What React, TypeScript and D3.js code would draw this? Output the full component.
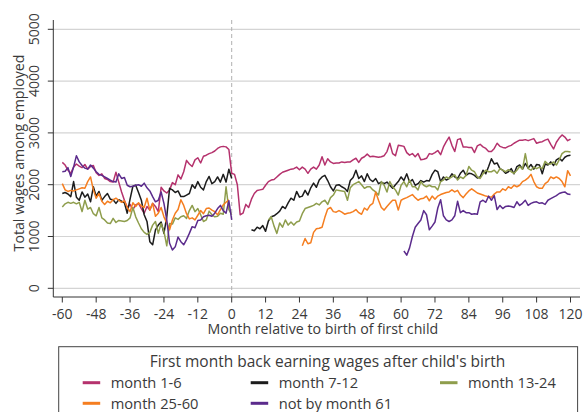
import React, { useEffect } from 'react';
import * as d3 from 'd3';

const WIDTH = 585;
const HEIGHT = 412;
const FONT = '"Open Sans", "DejaVu Sans", sans-serif';

const X_TICKS = [-60, -48, -36, -24, -12, 0, 12, 24, 36, 48, 60, 72, 84, 96, 108, 120];
const Y_TICKS = [0, 1000, 2000, 3000, 4000, 5000];

// pre-birth values, months -60 .. 0 (orange stops at -1)
const m1_6Pre = [2430, 2380, 2280, 2220, 2340, 2400, 2360, 2330, 2390, 2300, 2350, 2370, 2230, 2180, 2210, 2120, 2100, 2060, 2050, 2240, 2050, 1860, 1700, 1560, 1620, 1520, 1610, 1640, 1540, 1450, 1580, 1510, 1640, 1580, 1480, 1950, 1880, 1840, 1900, 2040, 2000, 2190, 2110, 2250, 2470, 2400, 2350, 2480, 2520, 2420, 2550, 2570, 2600, 2620, 2650, 2700, 2730, 2740, 2730, 2680, 2220];
const m7_12Pre = [1830, 1850, 1820, 1770, 2060, 1760, 1700, 1860, 1760, 1820, 1670, 1960, 1780, 1870, 1700, 1770, 1830, 1720, 1710, 1640, 1710, 1680, 1650, 1450, 1720, 1970, 1990, 1850, 1700, 1420, 1290, 900, 840, 1130, 1220, 1280, 1060, 1380, 1930, 1900, 1850, 1880, 1770, 1770, 1800, 1830, 2000, 1930, 2060, 1950, 1900, 2060, 2160, 2020, 2060, 2150, 2050, 2200, 2050, 2300, 2120];
const m13_24Pre = [1570, 1630, 1660, 1640, 1660, 1630, 1660, 1480, 1700, 1530, 1560, 1440, 1400, 1560, 1360, 1320, 1260, 1250, 1350, 1270, 1310, 1300, 1290, 1310, 1360, 1560, 1380, 1260, 1150, 1080, 1040, 1080, 1220, 1290, 1060, 1250, 1100, 820, 1250, 1240, 1360, 1330, 1380, 1400, 1350, 1500, 1600, 1480, 1540, 1420, 1290, 1320, 1490, 1420, 1380, 1390, 1450, 1430, 1960, 1520, 1420];
const m25_60Pre = [2020, 1900, 1870, 1890, 1880, 1900, 1920, 1940, 1930, 2060, 2150, 1900, 1740, 1830, 1680, 1620, 1680, 1650, 1710, 1740, 1700, 1660, 1690, 1560, 1480, 1650, 1580, 1650, 1590, 1560, 1740, 1510, 1640, 1390, 1450, 1560, 1380, 1260, 1130, 1320, 1450, 1520, 1710, 1600, 1440, 1340, 1360, 1320, 1410, 1500, 1440, 1540, 1550, 1510, 1480, 1420, 1520, 1610, 1660, 1710];
const notBy61Pre = [2250, 2260, 2330, 2160, 2340, 2560, 2440, 2370, 2320, 2300, 2380, 2320, 2250, 2200, 2180, 2150, 2120, 2090, 2060, 2050, 2210, 2120, 2140, 1990, 1960, 1970, 1990, 2000, 1970, 2030, 1940, 1880, 1770, 1670, 1700, 1860, 1640, 1320, 870, 740, 800, 990, 900, 840, 940, 1060, 1190, 1170, 1310, 1320, 1380, 1400, 1410, 1390, 1450, 1540, 1600, 1500, 1450, 1690, 1320];

// post-birth values, from the first month back through month 120
const m1_6Post = [2200, 2000, 1420, 1450, 1620, 1560, 1720, 1830, 1890, 1900, 1910, 1990, 2060, 2090, 2100, 2150, 2200, 2240, 2260, 2280, 2300, 2310, 2340, 2290, 2340, 2300, 2220, 2300, 2340, 2300, 2380, 2540, 2380, 2500, 2440, 2410, 2420, 2420, 2440, 2430, 2440, 2440, 2480, 2510, 2430, 2510, 2540, 2590, 2540, 2550, 2540, 2530, 2540, 2560, 2640, 2800, 2600, 2560, 2760, 2750, 2740, 2620, 2570, 2600, 2540, 2600, 2480, 2490, 2510, 2600, 2590, 2620, 2660, 2580, 2730, 2830, 2920, 2760, 2640, 2870, 2890, 2730, 2730, 2720, 2720, 2620, 2750, 2780, 2730, 2700, 2640, 2640, 2700, 2800, 2740, 2720, 2710, 2740, 2760, 2800, 2830, 2860, 2860, 2870, 2850, 2870, 2890, 2800, 2820, 2830, 2860, 2880, 2780, 2690, 2820, 2900, 2960, 2920, 2850, 2880];
const m7_12Post = [1130, 1110, 1180, 1150, 1210, 1100, 1300, 1380, 1400, 1440, 1490, 1580, 1540, 1650, 1740, 1700, 1870, 1760, 1780, 1890, 1800, 1940, 2030, 1950, 2090, 2150, 2180, 2080, 1960, 1880, 1990, 2000, 1960, 1930, 1870, 2080, 2140, 2280, 2120, 2170, 2060, 2210, 2100, 2060, 2120, 2020, 2050, 2020, 2050, 1990, 1930, 2000, 2060, 2150, 2080, 2210, 2050, 2100, 1990, 2020, 2080, 2050, 2080, 2070, 2200, 2280, 2250, 2060, 2150, 2090, 2120, 2210, 2150, 2120, 2220, 2280, 2180, 2220, 2210, 2180, 2130, 2150, 2280, 2210, 2350, 2500, 2400, 2420, 2310, 2280, 2220, 2250, 2310, 2210, 2350, 2380, 2300, 2410, 2320, 2390, 2300, 2390, 2380, 2210, 2400, 2380, 2440, 2370, 2480, 2510, 2460, 2530, 2560, 2570];
const m13_24Post = [1320, 1380, 1200, 1060, 1260, 1180, 1320, 1220, 1280, 1220, 1280, 1300, 1440, 1540, 1560, 1580, 1600, 1640, 1610, 1670, 1700, 1620, 1750, 1800, 1900, 1890, 1880, 1870, 1700, 1940, 2000, 2030, 2060, 2000, 1930, 1960, 1960, 1900, 1860, 1800, 2060, 1990, 1860, 2060, 1960, 1900, 1800, 1990, 2060, 1960, 2090, 1960, 1960, 1900, 2060, 1990, 1960, 1990, 1960, 1960, 1900, 2060, 2090, 2150, 2120, 2150, 2190, 2090, 2150, 2120, 2180, 2350, 2280, 2250, 2150, 2120, 2210, 2280, 2250, 2250, 2280, 2220, 2310, 2280, 2250, 2290, 2250, 2220, 2280, 2350, 2300, 2600, 2310, 2280, 2340, 2310, 2340, 2310, 2450, 2400, 2400, 2440, 2380, 2480, 2600, 2640, 2640, 2630];
const m25_60Post = [820, 960, 860, 880, 1080, 1150, 1160, 1180, 1370, 1530, 1560, 1480, 1470, 1500, 1470, 1430, 1450, 1460, 1480, 1520, 1460, 1430, 1550, 1510, 1600, 1640, 1860, 1700, 1560, 1510, 1580, 1640, 1700, 1700, 1510, 1700, 1730, 1750, 1780, 1810, 1750, 1700, 1730, 1740, 1780, 1690, 1780, 1720, 1780, 1810, 1830, 1850, 1860, 1900, 1860, 1890, 1800, 1750, 1820, 1880, 1920, 1880, 1840, 1820, 1800, 1780, 1770, 1760, 1820, 1860, 1860, 1920, 1890, 1960, 1930, 1990, 1960, 1990, 2060, 2090, 2130, 2200, 2060, 1960, 1930, 1930, 2020, 2060, 2150, 2120, 2150, 2120, 2060, 1960, 2270, 2170];
const notBy61Post = [720, 640, 780, 1000, 1180, 1250, 1320, 1500, 1420, 1130, 1200, 1280, 1550, 1710, 1400, 1320, 1290, 1320, 1400, 1680, 1460, 1500, 1460, 1460, 1430, 1440, 1430, 1670, 1700, 1660, 1780, 1700, 1790, 1520, 1600, 1540, 1580, 1590, 1580, 1560, 1670, 1600, 1640, 1700, 1600, 1640, 1660, 1670, 1640, 1650, 1620, 1700, 1730, 1760, 1790, 1830, 1850, 1860, 1820, 1810];

const series = [
  { name: 'month 1-6', color: '#b5326d', pre: m1_6Pre, postStart: 1, post: m1_6Post },
  { name: 'month 7-12', color: '#1c1c1c', pre: m7_12Pre, postStart: 7, post: m7_12Post },
  { name: 'month 13-24', color: '#8e9d4c', pre: m13_24Pre, postStart: 13, post: m13_24Post },
  { name: 'month 25-60', color: '#f57e20', pre: m25_60Pre, postStart: 25, post: m25_60Post },
  { name: 'not by month 61', color: '#5b2b8c', pre: notBy61Pre, postStart: 61, post: notBy61Post },
];

type Pt = { m: number; v: number | null };

const toPoints = (s: (typeof series)[number]): Pt[] =>
  d3.range(-60, 121).map((m) => {
    let v: number | undefined;
    if (m <= 0) v = s.pre[m + 60];
    else if (m >= s.postStart) v = s.post[m - s.postStart];
    return { m, v: v === undefined ? null : v };
  });

const x = d3.scaleLinear().domain([-60, 120]).range([62.3, 570.5]);
const y = d3.scaleLinear().domain([0, 5000]).range([288.3, 29.3]);

const PLOT_LEFT = 53.3;
const PLOT_RIGHT = 580;
const AXIS_Y = 297;
const TEXT = '#3a3a3a';

// legend slots: [swatch x, row y]
const legendPos = [
  [82.7, 382.7],
  [250.7, 382.7],
  [440, 382.7],
  [82.7, 403.3],
  [250.7, 403.3],
];

export default function App() {
  useEffect(() => {
    document.body.style.margin = '0';
  }, []);

  const line = d3
    .line<Pt>()
    .defined((d) => d.v !== null)
    .x((d) => x(d.m))
    .y((d) => y(d.v as number));

  return (
    <svg width={WIDTH} height={HEIGHT} viewBox={`0 0 ${WIDTH} ${HEIGHT}`} style={{ display: 'block', background: '#fff' }} fontFamily={FONT}>
      {/* gridlines */}
      {Y_TICKS.map((t) => (
        <line key={t} x1={PLOT_LEFT} x2={PLOT_RIGHT} y1={y(t)} y2={y(t)} stroke="#d4d4d4" strokeWidth={1.2} />
      ))}

      {/* birth marker */}
      <line x1={x(0)} x2={x(0)} y1={20} y2={AXIS_Y} stroke="#b0b0b0" strokeWidth={1} strokeDasharray="4 3" />

      {/* series */}
      {series.map((s) => (
        <path key={s.name} d={line(toPoints(s)) ?? ''} fill="none" stroke={s.color} strokeWidth={1.5} strokeLinejoin="round" />
      ))}

      {/* y axis */}
      <line x1={PLOT_LEFT} x2={PLOT_LEFT} y1={20} y2={AXIS_Y} stroke="#333" strokeWidth={1} />
      {Y_TICKS.map((t) => (
        <g key={t}>
          <line x1={PLOT_LEFT - 5.5} x2={PLOT_LEFT} y1={y(t)} y2={y(t)} stroke="#333" strokeWidth={1} />
          <text transform={`translate(${39.2}, ${y(t)}) rotate(-90)`} textAnchor="middle" fontSize={14} fill={TEXT}>
            {t}
          </text>
        </g>
      ))}
      <text transform={`translate(${23.5}, ${153}) rotate(-90)`} textAnchor="middle" fontSize={14.2} fill={TEXT}>
        Total wages among employed
      </text>

      {/* x axis */}
      <line x1={PLOT_LEFT} x2={PLOT_RIGHT} y1={AXIS_Y} y2={AXIS_Y} stroke="#333" strokeWidth={1} />
      {X_TICKS.map((t) => (
        <g key={t}>
          <line x1={x(t)} x2={x(t)} y1={AXIS_Y} y2={AXIS_Y + 5.5} stroke="#333" strokeWidth={1} />
          <text x={x(t)} y={319} textAnchor="middle" fontSize={14} fill={TEXT}>
            {t}
          </text>
        </g>
      ))}
      <text x={322.8} y={333.5} textAnchor="middle" fontSize={14.2} fill={TEXT}>
        Month relative to birth of first child
      </text>

      {/* legend */}
      <rect x={58.7} y={346.7} width={518.9} height={80} fill="#fff" stroke="#444" strokeWidth={1} />
      <text x={327.6} y={366.7} textAnchor="middle" fontSize={15.5} fill={TEXT}>
        First month back earning wages after child's birth
      </text>
      {series.map((s, i) => {
        const [lx, ly] = legendPos[i];
        return (
          <g key={s.name}>
            <line x1={lx} x2={lx + 17.5} y1={ly} y2={ly} stroke={s.color} strokeWidth={3} />
            <text x={lx + 28} y={ly + 5.6} fontSize={14.7} fill={TEXT}>
              {s.name}
            </text>
          </g>
        );
      })}
    </svg>
  );
}
